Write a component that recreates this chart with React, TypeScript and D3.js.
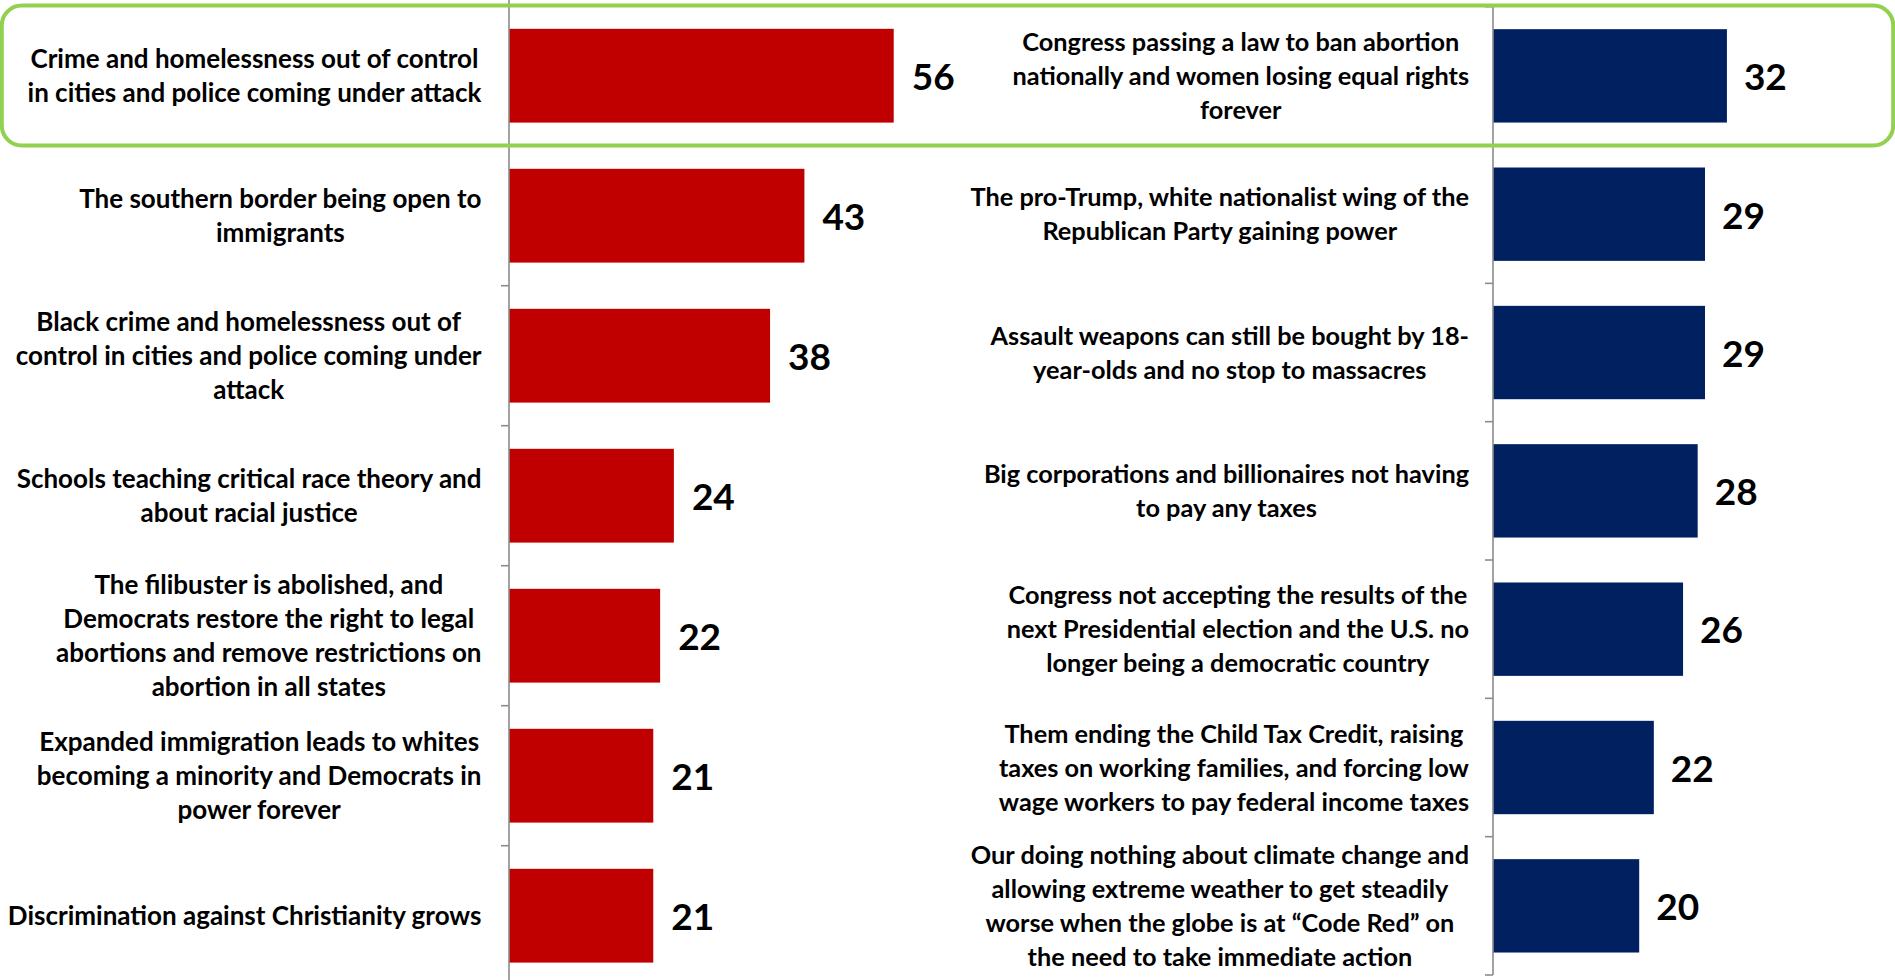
import React, { useEffect, useRef } from 'react';
import * as d3 from 'd3';

const leftCategories: string[] = [
  'Crime and homelessness out of control\nin cities and police coming under attack',
  'The southern border being open to\nimmigrants',
  'Black crime and homelessness out of\ncontrol in cities and police coming under\nattack',
  'Schools teaching critical race theory and\nabout racial justice',
  'The filibuster is abolished, and\nDemocrats restore the right to legal\nabortions and remove restrictions on\nabortion in all states',
  'Expanded immigration leads to whites\nbecoming a minority and Democrats in\npower forever',
  'Discrimination against Christianity grows',
];
const leftValues: number[] = [56, 43, 38, 24, 22, 21, 21];

const rightCategories: string[] = [
  'Congress passing a law to ban abortion\nnationally and women losing equal rights\nforever',
  'The pro-Trump, white nationalist wing of the\nRepublican Party gaining power',
  'Assault weapons can still be bought by 18-\nyear-olds and no stop to massacres',
  'Big corporations and billionaires not having\nto pay any taxes',
  'Congress not accepting the results of the\nnext Presidential election and the U.S. no\nlonger being a democratic country',
  'Them ending the Child Tax Credit, raising\ntaxes on working families, and forcing low\nwage workers to pay federal income taxes',
  'Our doing nothing about climate change and\nallowing extreme weather to get steadily\nworse when the globe is at \u201CCode Red\u201D on\nthe need to take immediate action',
];
const rightValues: number[] = [32, 29, 29, 28, 26, 22, 20];

const W = 1895;
const H = 980;
const FONT = 'Lato, "Open Sans", sans-serif';
const VALUE_SIZE = 37;
const LINE_H = 34;

export default function App() {
  const ref = useRef<SVGSVGElement>(null);

  useEffect(() => {
    const svg = d3.select(ref.current);
    svg.selectAll('*').remove();

    const panels = [
      {
        cats: leftCategories, vals: leftValues, color: '#C00000',
        x0: 509, x1: 509 + 60 * 6.87, max: 60,
        y0: 5.7, y1: 985.7, axisTop: -2, axisBottom: 985.7,
        labelRight: 481.5, valueGap: 18, pad: 0.33, labelSize: 26,
      },
      {
        cats: rightCategories, vals: rightValues, color: '#002060',
        x0: 1493, x1: 1493 + 50 * 7.31, max: 50,
        y0: 6.7, y1: 975, axisTop: 6.7, axisBottom: 975,
        labelRight: 1469, valueGap: 17, pad: 0.325, labelSize: 25.3,
      },
    ];

    panels.forEach((p) => {
      const x = d3.scaleLinear().domain([0, p.max]).range([p.x0, p.x1]);
      const y = d3.scaleBand<string>().domain(p.cats).range([p.y0, p.y1])
        .paddingInner(p.pad).paddingOuter(p.pad / 2);
      const g = svg.append('g');

      // bars
      g.selectAll('rect.bar').data(p.vals).enter().append('rect')
        .attr('class', 'bar')
        .attr('x', x(0))
        .attr('y', (_d, i) => y(p.cats[i]) as number)
        .attr('width', (d) => x(d) - x(0))
        .attr('height', y.bandwidth())
        .attr('fill', p.color);

      // axis line & ticks
      g.append('line')
        .attr('x1', x(0)).attr('x2', x(0))
        .attr('y1', p.axisTop).attr('y2', p.axisBottom)
        .attr('stroke', '#8c8c8c').attr('stroke-width', 1.6);
      const bounds = d3.range(p.cats.length + 1).map((k) => p.y0 + k * y.step());
      g.selectAll('line.tick').data(bounds).enter().append('line')
        .attr('class', 'tick')
        .attr('x1', x(0) - 8).attr('x2', x(0))
        .attr('y1', (d) => d).attr('y2', (d) => d)
        .attr('stroke', '#8c8c8c').attr('stroke-width', 1.6);

      // value labels
      g.selectAll('text.val').data(p.vals).enter().append('text')
        .attr('class', 'val')
        .attr('x', (d) => x(d) + p.valueGap)
        .attr('y', (_d, i) => (y(p.cats[i]) as number) + y.bandwidth() / 2 + VALUE_SIZE * 0.36 + 1)
        .attr('font-family', FONT)
        .attr('font-weight', 700)
        .attr('font-size', VALUE_SIZE)
        .attr('fill', '#000')
        .text((d) => String(d));

      // category labels
      p.cats.forEach((c) => {
        const lines = c.split('\n');
        const cy = (y(c) as number) + y.bandwidth() / 2;
        const lg = g.append('g');
        const t = lg.append('text')
          .attr('font-family', FONT)
          .attr('font-weight', 700)
          .attr('font-size', p.labelSize)
          .attr('fill', '#000')
          .attr('text-anchor', 'middle');
        const n = lines.length;
        const spans = lines.map((ln, i) =>
          t.append('tspan')
            .attr('x', 0)
            .attr('y', (i - (n - 1) / 2) * LINE_H + p.labelSize * 0.36)
            .text(ln)
        );
        let maxW = 0;
        spans.forEach((s) => {
          const node = s.node() as SVGTSpanElement;
          maxW = Math.max(maxW, node.getComputedTextLength());
        });
        lg.attr('transform', `translate(${p.labelRight - maxW / 2},${cy})`);
      });
    });

    // highlight box around first row
    svg.append('rect')
      .attr('x', 1.8).attr('y', 5.5)
      .attr('width', W - 3.6).attr('height', 140)
      .attr('rx', 20).attr('ry', 20)
      .attr('fill', 'none')
      .attr('stroke', '#92D050')
      .attr('stroke-width', 4);
  }, []);

  return (
    <svg
      ref={ref}
      width={W}
      height={H}
      style={{ position: 'absolute', left: 0, top: 0, background: '#fff' }}
    />
  );
}
